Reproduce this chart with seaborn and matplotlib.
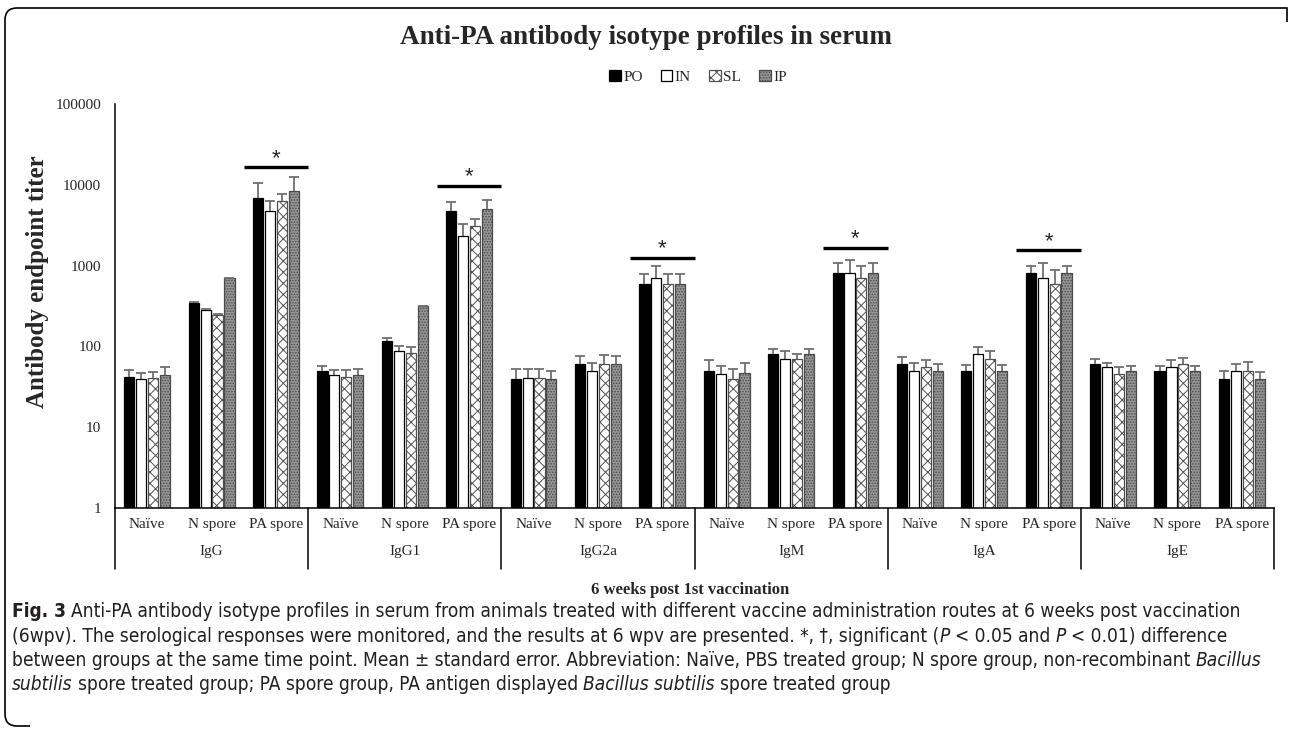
import matplotlib
matplotlib.use('Agg')
import matplotlib.pyplot as plt
from matplotlib import font_manager
from matplotlib.patches import Patch, PathPatch
from matplotlib.path import Path
import numpy as np
import pandas as pd
import seaborn as sns

# ---- data ----
isotypes = ['IgG', 'IgG1', 'IgG2a', 'IgM', 'IgA', 'IgE']
groups = ['Naïve', 'N spore', 'PA spore']
routes = ['PO', 'IN', 'SL', 'IP']

# mean titer, isotype-major / group-minor (18 values each)
po_titer = [42, 345, 6800, 49, 118, 4700, 39, 60, 600, 50, 80, 800, 60, 50, 800, 60, 50, 40]
in_titer = [39, 285, 4800, 44, 88, 2300, 41, 50, 700, 45, 70, 800, 50, 80, 700, 55, 55, 50]
sl_titer = [41, 245, 6300, 42, 83, 3100, 41, 60, 600, 39, 70, 700, 55, 70, 600, 45, 60, 50]
ip_titer = [44, 700, 8500, 44, 315, 5000, 39, 60, 600, 47, 80, 800, 50, 50, 800, 50, 50, 40]

# upper end of the error bar (mean + SE)
po_top = [51, 355, 10500, 58, 127, 6100, 53, 75, 790, 67, 94, 1090, 73, 59, 980, 69, 57, 49]
in_top = [47, 292, 6300, 51, 102, 3300, 53, 62, 980, 57, 88, 1180, 62, 98, 1090, 62, 68, 60]
sl_top = [48, 255, 7800, 51, 97, 3800, 53, 78, 790, 53, 81, 980, 68, 88, 890, 56, 72, 64]
ip_top = [55, 705, 12500, 53, 318, 6500, 49, 75, 790, 62, 94, 1090, 61, 59, 980, 58, 57, 48]

sig_isotypes = ['IgG', 'IgG1', 'IgG2a', 'IgM', 'IgA']
sig_levels = [16500, 9800, 1250, 1650, 1550]

W, H = 1292, 730

sns.set_theme(style='white')
plt.rcParams['font.family'] = ['Liberation Serif', 'DejaVu Serif']
plt.rcParams['hatch.linewidth'] = 0.7

cats = [f'{iso}|{grp}' for iso in isotypes for grp in groups]
rows = []
for route, vals, tops in zip(routes, [po_titer, in_titer, sl_titer, ip_titer],
                             [po_top, in_top, sl_top, ip_top]):
    for cat, v, t in zip(cats, vals, tops):
        rows.append({'cat': cat, 'route': route, 'titer': v, 'err': t - v})
df = pd.DataFrame(rows)

styles = {
    'PO': dict(facecolor='black', edgecolor='black', hatch=None),
    'IN': dict(facecolor='white', edgecolor='black', hatch=None),
    'SL': dict(facecolor='white', edgecolor='#505050', hatch='xxx'),
    'IP': dict(facecolor='#959595', edgecolor='#4a4a4a', hatch='......'),
}

fig = plt.figure(figsize=(W / 100, H / 100), dpi=100)
ax = fig.add_axes([115 / W, 1 - 508 / H, (1274 - 115) / W, (508 - 104) / H])

sns.barplot(data=df, x='cat', y='titer', hue='route', order=cats, hue_order=routes,
            palette=[styles[r]['facecolor'] for r in routes], saturation=1,
            width=0.74, gap=0.15, errorbar=None, legend=False, ax=ax)
ax.set_yscale('log')

for container, route in zip(ax.containers, routes):
    st = styles[route]
    for bar in container:
        bar.set_facecolor(st['facecolor'])
        bar.set_edgecolor(st['edgecolor'])
        bar.set_hatch(st['hatch'])
        bar.set_linewidth(0.9)
    sub = df[df['route'] == route].set_index('cat').loc[cats]
    xs = [b.get_x() + b.get_width() / 2 for b in container]
    ys = [b.get_height() for b in container]
    up = sub['err'].values.astype(float)
    eb = ax.errorbar(xs, ys, yerr=[np.zeros_like(up), up], fmt='none', ecolor='#707070',
                     elinewidth=1.3, capsize=3.5, capthick=1.3, zorder=3)
    eb[1][0].set_visible(False)

# significance bars
for iso, level in zip(sig_isotypes, sig_levels):
    xc = cats.index(f'{iso}|PA spore')
    ax.plot([xc - 0.5, xc + 0.5], [level, level], color='black', lw=2.4,
            solid_capstyle='butt', zorder=4)
    ax.text(xc, level * 1.1, '*', ha='center', va='baseline', fontsize=16,
            family='Liberation Sans')

ax.set_ylim(1, 100000)
ax.set_xlim(-0.5, len(cats) - 0.5)
ax.set_yticks([1, 10, 100, 1000, 10000, 100000])
ax.set_yticklabels(['1', '10', '100', '1000', '10000', '100000'])
ax.yaxis.set_minor_locator(matplotlib.ticker.NullLocator())
ax.tick_params(axis='y', length=0, pad=10, labelsize=11)
ax.set_xticks(range(len(cats)))
ax.set_xticklabels([c.split('|')[1] for c in cats])
ax.tick_params(axis='x', length=0, pad=7, labelsize=11)
ax.set_xlabel('')
ax.set_ylabel('')
for s in ['top', 'right']:
    ax.spines[s].set_visible(False)
for s in ['left', 'bottom']:
    ax.spines[s].set_color('black')
    ax.spines[s].set_linewidth(1.1)

# two-level category axis
tr = ax.get_xaxis_transform()
for k in range(len(isotypes) + 1):
    xb = 3 * k - 0.5
    ax.plot([xb, xb], [0, -0.15], color='black', lw=1.1, transform=tr, clip_on=False)
for k, iso in enumerate(isotypes):
    ax.text(3 * k + 1, -0.107, iso, ha='center', va='center', fontsize=11, transform=tr)

fig.text(0.5, 1 - 37 / H, 'Anti-PA antibody isotype profiles in serum', ha='center',
         va='center', fontsize=19.5, weight='bold')
fig.text(38 / W, 1 - 282 / H, 'Antibody endpoint titer', rotation=90, ha='center',
         va='center', fontsize=18, weight='bold')
fig.text(690 / W, 1 - 590 / H, '6 weeks post 1st vaccination', ha='center', va='center',
         fontsize=12, weight='bold')

handles = [Patch(facecolor=styles[r]['facecolor'], edgecolor=styles[r]['edgecolor'],
                 hatch=styles[r]['hatch'], linewidth=0.9) for r in routes]
fig.legend(handles, routes, loc='center', bbox_to_anchor=(698 / W, 1 - 77 / H), ncol=4,
           frameon=False, handlelength=0.75, handleheight=0.75, handletextpad=0.15,
           columnspacing=1.2, fontsize=11)

# caption (condensed sans if one is installed)
cap_family, cap_stretch = 'Liberation Sans', 'normal'
for f in font_manager.fontManager.ttflist:
    if f.name == 'DejaVu Sans' and f.stretch == 'condensed':
        cap_family, cap_stretch = 'DejaVu Sans', 'condensed'
        break
else:
    names = {f.name for f in font_manager.fontManager.ttflist}
    if 'Liberation Sans Narrow' in names:
        cap_family = 'Liberation Sans Narrow'

caption = [
    [('Fig. 3', 'b'), (' Anti-PA antibody isotype profiles in serum from animals treated with different '
                       'vaccine administration routes at 6 weeks post vaccination', 'n')],
    [('(6wpv). The serological responses were monitored, and the results at 6 wpv are presented. '
      '*, \u2020, significant (', 'n'), ('P', 'i'), (' < 0.05 and ', 'n'), ('P', 'i'),
     (' < 0.01) difference', 'n')],
    [('between groups at the same time point. Mean \u00b1 standard error. Abbreviation: Na\u00efve, '
      'PBS treated group; N spore group, non-recombinant ', 'n'), ('Bacillus', 'i')],
    [('subtilis', 'i'), (' spore treated group; PA spore group, PA antigen displayed ', 'n'),
     ('Bacillus subtilis', 'i'), (' spore treated group', 'n')],
]
renderer = fig.canvas.get_renderer()
style_kw = {'n': {}, 'b': {'weight': 'bold'}, 'i': {'style': 'italic'}}


def text_width(s, size, kind):
    t = fig.text(0, 0, s, fontsize=size, family=cap_family, stretch=cap_stretch,
                 **style_kw[kind])
    w = t.get_window_extent(renderer).width
    t.remove()
    return w


def draw_line(segments, x0, y, size, draw=True):
    space = text_width('a a', size, 'n') - text_width('aa', size, 'n')
    x = x0
    for s, kind in segments:
        lead = len(s) - len(s.lstrip(' '))
        trail = len(s) - len(s.rstrip(' '))
        core = s.strip(' ')
        x += lead * space
        if draw:
            fig.text(x / W, 1 - y / H, core, fontsize=size, family=cap_family,
                     stretch=cap_stretch, ha='left', va='baseline', color='#231f20',
                     **style_kw[kind])
        x += text_width(core, size, kind) + trail * space
    return x - x0


base = 10
widest = max(draw_line(seg, 12, 0, base, draw=False) for seg in caption)
cap_size = base * (1262 - 12) / widest
for i, seg in enumerate(caption):
    draw_line(seg, 12, 617 + 24.5 * i, cap_size)

# figure frame
frame = Path([(1287, 22), (1287, 8), (17, 8), (5, 8), (5, 20), (5, 714), (5, 726), (17, 726),
              (30, 726)],
             [Path.MOVETO, Path.LINETO, Path.LINETO, Path.CURVE3, Path.CURVE3, Path.LINETO,
              Path.CURVE3, Path.CURVE3, Path.LINETO])
frame = Path([(x / W, 1 - y / H) for x, y in frame.vertices], frame.codes)
fig.add_artist(PathPatch(frame, transform=fig.transFigure, fill=False, edgecolor='black', lw=1.2))

fig.savefig('out.png', dpi=100, facecolor='white')
